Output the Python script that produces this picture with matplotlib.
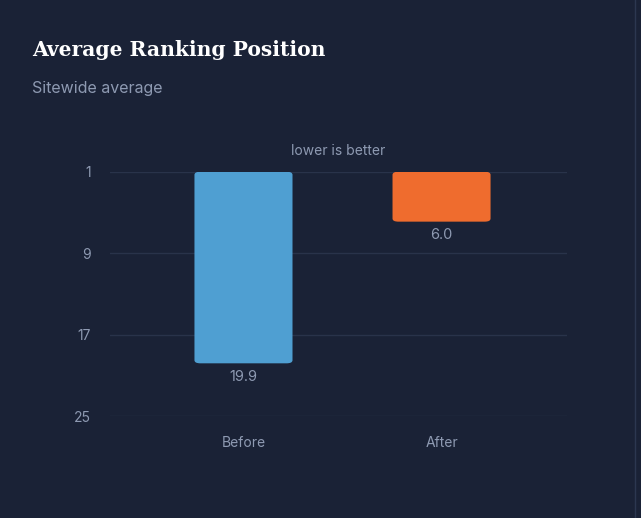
import matplotlib.pyplot as plt
from matplotlib.patches import FancyBboxPatch
from matplotlib.lines import Line2D

# data
categories = ["Before", "After"]
positions = [19.9, 6.0]
bar_colors = ["#4f9fd2", "#ef6c2e"]
tick_values = [1, 9, 17, 25]

bg = "#1a2236"
grid = "#29334a"
muted = "#8e9ab2"

fig = plt.figure(figsize=(6.41, 5.18), dpi=100, facecolor=bg)
ax = fig.add_axes([0.1716, 0.1963, 0.7125, 0.4722])
ax.set_facecolor(bg)

x = range(len(categories))
top = 1
w = 0.495
for i, (v, c) in enumerate(zip(positions, bar_colors)):
    # rounded bar from rank 1 down to the value
    p = FancyBboxPatch((i - w / 2, top), w, v - top - 0.1,
                       boxstyle="round,pad=0,rounding_size=0.03",
                       mutation_aspect=10.0,
                       facecolor=c, edgecolor="none", zorder=3)
    ax.add_patch(p)
    ax.text(i, v + 0.55, f"{v:.1f}", ha="center", va="top",
            color=muted, fontsize=10.5, fontfamily="Inter", zorder=4)

ax.set_xlim(-0.674, 1.632)
ax.set_ylim(25, 1)
ax.set_yticks(tick_values)
ax.set_yticklabels([str(t) for t in tick_values])
ax.set_xticks(list(x))
ax.set_xticklabels(categories)
for s in ax.spines.values():
    s.set_visible(False)
ax.tick_params(axis="both", length=0, colors=muted, labelsize=10)
ax.tick_params(axis="y", pad=14)
ax.tick_params(axis="x", pad=14)
for lab in ax.get_xticklabels() + ax.get_yticklabels():
    lab.set_fontfamily("Inter")
ax.yaxis.grid(True, color=grid, linewidth=1)
ax.set_axisbelow(True)

ax.text(0.5, 1.055, "lower is better", transform=ax.transAxes, ha="center",
        va="bottom", color=muted, fontsize=10, fontfamily="Inter")

fig.text(32 / 641, 1 - 50 / 518, "Average Ranking Position", ha="left",
         va="center", color="white", fontsize=14.6, fontweight="bold",
         fontfamily="DejaVu Serif")
fig.text(32 / 641, 1 - 88 / 518, "Sitewide average", ha="left",
         va="center", color=muted, fontsize=11.5, fontfamily="Inter")

# card edge on the right
fig.add_artist(Line2D([635 / 641, 635 / 641], [0, 1], transform=fig.transFigure,
                      color="#2c3750", linewidth=1))

fig.savefig("out.png", dpi=100, facecolor=bg)
